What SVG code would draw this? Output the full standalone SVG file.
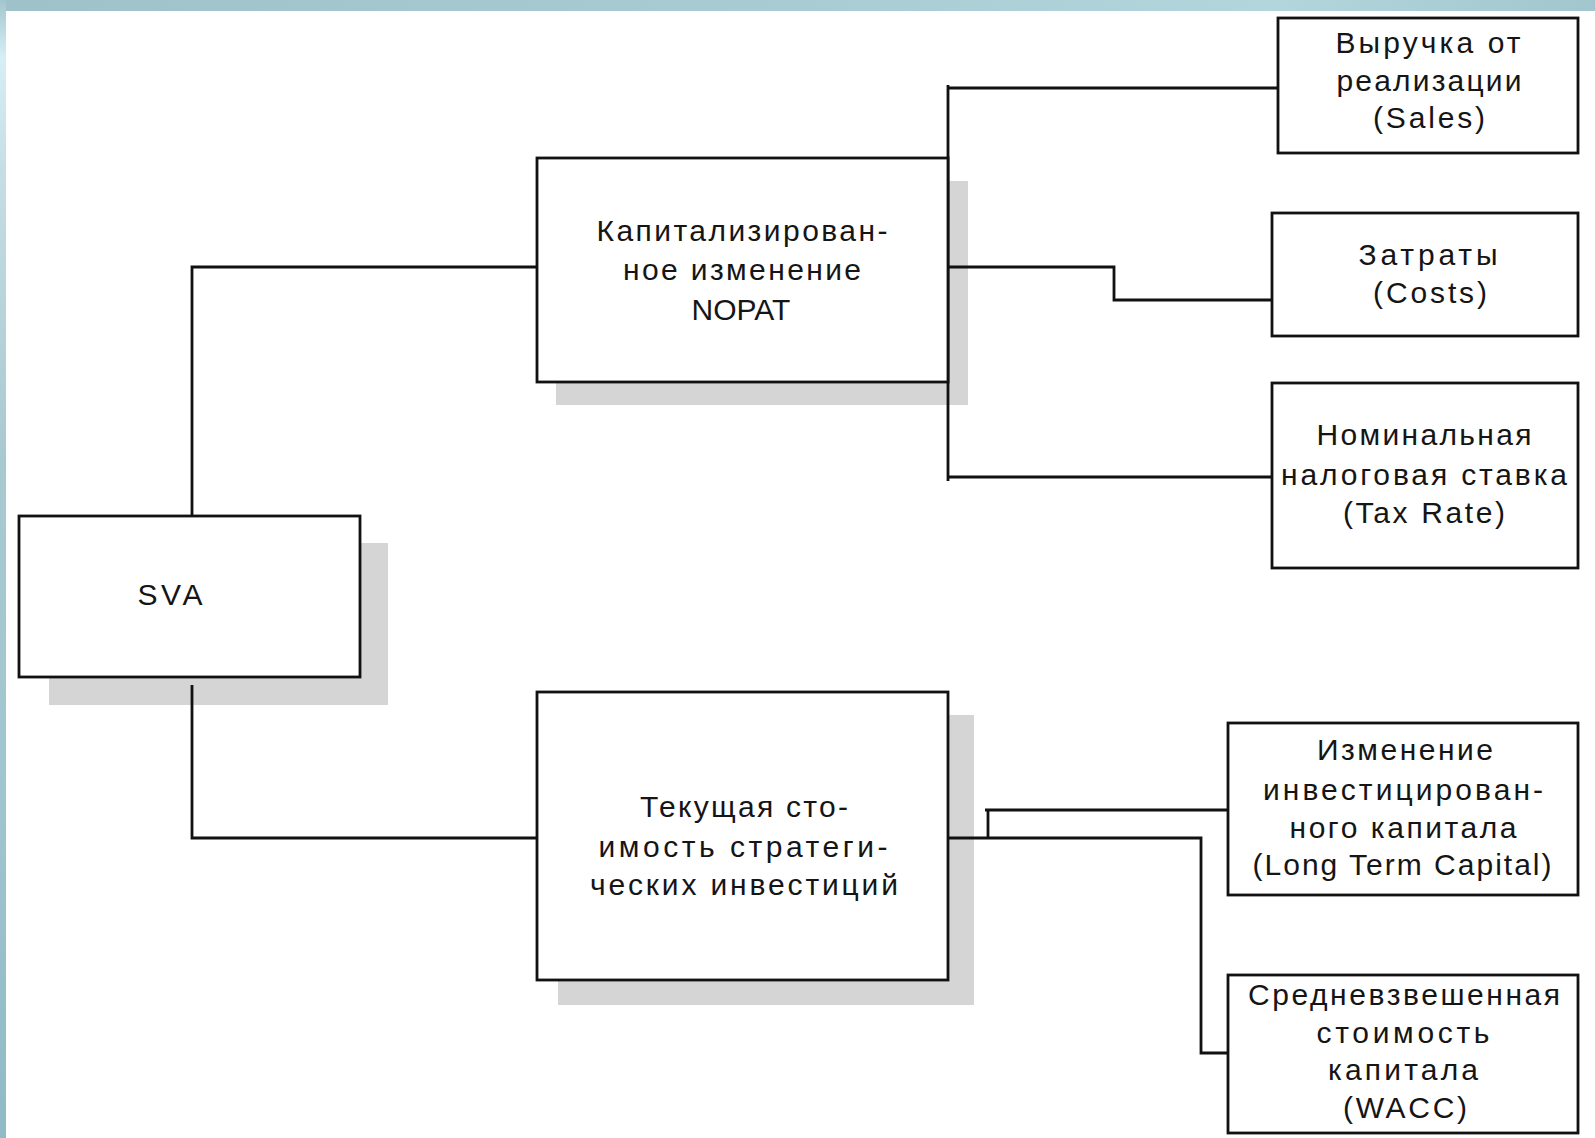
<svg xmlns="http://www.w3.org/2000/svg" width="1595" height="1138" viewBox="0 0 1595 1138">
  <defs>
    <linearGradient id="topband" x1="0" y1="0" x2="1" y2="0">
      <stop offset="0" stop-color="#9fc2ca"/>
      <stop offset="0.5" stop-color="#a9cbd3"/>
      <stop offset="0.8" stop-color="#b3d6dd"/>
      <stop offset="1" stop-color="#a2c6ce"/>
    </linearGradient>
    <linearGradient id="leftband" x1="0" y1="0" x2="0" y2="1">
      <stop offset="0" stop-color="#a3c6ce"/>
      <stop offset="0.05" stop-color="#d6eef6"/>
      <stop offset="0.15" stop-color="#c6dde3"/>
      <stop offset="0.4" stop-color="#a9c9d1"/>
      <stop offset="0.7" stop-color="#a0c5cf"/>
      <stop offset="1" stop-color="#8fbac6"/>
    </linearGradient>
  </defs>
  <style>
    .box { fill: #ffffff; stroke: #111111; stroke-width: 2.8; }
    .shadow { fill: #d5d5d5; stroke: none; }
    .conn { fill: none; stroke: #111111; stroke-width: 2.8; }
    .lbl { font-family: "Liberation Sans", Arial, "DejaVu Sans", sans-serif; font-size: 30px; fill: #151515; text-anchor: middle; }
  </style>

  <rect x="0" y="0" width="1595" height="1138" fill="#ffffff"/>
  <rect x="0" y="0" width="1595" height="11" fill="url(#topband)"/>
  <rect x="0" y="0" width="6" height="1138" fill="url(#leftband)"/>

  <g id="shadows">
    <rect class="shadow" x="49" y="543" width="339" height="162"/>
    <rect class="shadow" x="556" y="181" width="412" height="224"/>
    <rect class="shadow" x="558" y="715" width="416" height="290"/>
  </g>

  <g id="connectors">
    <path class="conn" d="M192,516 V267 H537"/>
    <path class="conn" d="M192,685 V838 H537"/>
    <path class="conn" d="M948,85 V481"/>
    <path class="conn" d="M948,88 H1278"/>
    <path class="conn" d="M948,477 H1272"/>
    <path class="conn" d="M945,267 H1114 V300 H1272"/>
    <circle cx="945" cy="267" r="2" fill="#111111"/>
    <path class="conn" d="M948,838 H1201 V1053 H1228"/>
    <path class="conn" d="M988,838 V810"/>
    <path class="conn" d="M985,810 H1228"/>
  </g>

  <g id="node-sva">
    <rect class="box" x="19" y="516" width="341" height="161"/>
    <text class="lbl" x="170" y="605" textLength="65" lengthAdjust="spacing">SVA</text>
  </g>

  <g id="node-nopat">
    <rect class="box" x="537" y="158" width="411" height="224"/>
    <text class="lbl" x="742" y="241" textLength="291" lengthAdjust="spacing">Капитализирован-</text>
    <text class="lbl" x="742" y="280" textLength="238" lengthAdjust="spacing">ное изменение</text>
    <text class="lbl" x="741" y="320">NOPAT</text>
  </g>

  <g id="node-strategic">
    <rect class="box" x="537" y="692" width="411" height="288"/>
    <text class="lbl" x="744" y="817" textLength="208" lengthAdjust="spacing">Текущая сто-</text>
    <text class="lbl" x="743" y="857" textLength="289" lengthAdjust="spacing">имость стратеги-</text>
    <text class="lbl" x="744" y="895" textLength="308" lengthAdjust="spacing">ческих инвестиций</text>
  </g>

  <g id="node-sales">
    <rect class="box" x="1278" y="18" width="300" height="135"/>
    <text class="lbl" x="1428" y="53" textLength="185" lengthAdjust="spacing">Выручка от</text>
    <text class="lbl" x="1429" y="91" textLength="185" lengthAdjust="spacing">реализации</text>
    <text class="lbl" x="1429" y="128" textLength="112" lengthAdjust="spacing">(Sales)</text>
  </g>

  <g id="node-costs">
    <rect class="box" x="1272" y="213" width="306" height="123"/>
    <text class="lbl" x="1428" y="265" textLength="139" lengthAdjust="spacing">Затраты</text>
    <text class="lbl" x="1430" y="303" textLength="114" lengthAdjust="spacing">(Costs)</text>
  </g>

  <g id="node-tax">
    <rect class="box" x="1272" y="383" width="306" height="185"/>
    <text class="lbl" x="1424" y="445" textLength="215" lengthAdjust="spacing">Номинальная</text>
    <text class="lbl" x="1424" y="485" textLength="286" lengthAdjust="spacing">налоговая ставка</text>
    <text class="lbl" x="1424" y="523" textLength="162" lengthAdjust="spacing">(Tax Rate)</text>
  </g>

  <g id="node-ltc">
    <rect class="box" x="1228" y="723" width="350" height="172"/>
    <text class="lbl" x="1405" y="760" textLength="176" lengthAdjust="spacing">Изменение</text>
    <text class="lbl" x="1403" y="800" textLength="280" lengthAdjust="spacing">инвестицирован-</text>
    <text class="lbl" x="1403" y="838" textLength="227" lengthAdjust="spacing">ного капитала</text>
    <text class="lbl" x="1402" y="875" textLength="299" lengthAdjust="spacing">(Long Term Capital)</text>
  </g>

  <g id="node-wacc">
    <rect class="box" x="1228" y="975" width="350" height="158"/>
    <text class="lbl" x="1404" y="1005" textLength="312" lengthAdjust="spacing">Средневзвешенная</text>
    <text class="lbl" x="1403" y="1043" textLength="173" lengthAdjust="spacing">стоимость</text>
    <text class="lbl" x="1403" y="1080" textLength="150" lengthAdjust="spacing">капитала</text>
    <text class="lbl" x="1405" y="1118" textLength="124" lengthAdjust="spacing">(WACC)</text>
  </g>
</svg>
